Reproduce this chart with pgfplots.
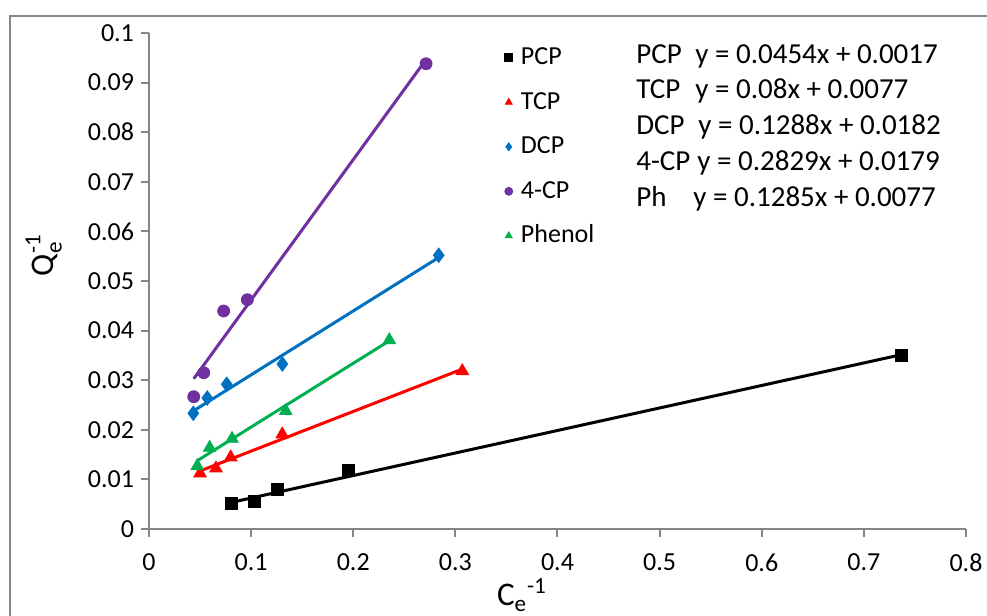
\documentclass[border=0pt]{standalone}
\usepackage{fontspec}
\setmainfont{Carlito}
\usepackage{amsmath}
\usepackage{pgfplots}
\pgfplotsset{compat=1.18}
\definecolor{axgray}{HTML}{868686}
\definecolor{tcpred}{HTML}{FF0000}
\definecolor{dcpblue}{HTML}{0070C0}
\definecolor{cppurple}{HTML}{7030A0}
\definecolor{phgreen}{HTML}{00B050}
\begin{document}
\begin{tikzpicture}
\useasboundingbox (0,0) rectangle (493.5pt,308pt);
\draw[axgray, line width=1pt] (5pt,-5pt) -- (5pt,300pt) -- (500pt,300pt);
\begin{axis}[
  at={(74.5pt,43.5pt)}, anchor=south west,
  scale only axis, width=408.5pt, height=248pt,
  xmin=0, xmax=0.8, ymin=0, ymax=0.1,
  axis x line*=bottom, axis y line*=left,
  axis line style={draw=axgray, line width=1pt},
  tick style={draw=axgray, line width=1pt},
  tick align=outside, major tick length=4pt,
  xtick={0,0.1,0.2,0.3,0.4,0.5,0.6,0.7,0.8},
  ytick={0,0.01,0.02,0.03,0.04,0.05,0.06,0.07,0.08,0.09,0.1},
  scaled x ticks=false, scaled y ticks=false,
  xticklabel style={/pgf/number format/fixed, /pgf/number format/precision=2, yshift=-5pt},
  yticklabel style={/pgf/number format/fixed, /pgf/number format/precision=2},
  /pgf/number format/assume math mode=true,
  tick label style={font=\fontsize{13}{15}\selectfont, text=black},
  xlabel={C\textsubscript{e}\textsuperscript{-1}},
  ylabel={Q$_{\text{e}}^{\text{-1}}$},
  label style={font=\fontsize{16.5}{19}\selectfont},
  xlabel style={at={(axis description cs:0.4174,-0.155)}, anchor=base west},
  ylabel style={at={(axis description cs:-0.1175,0.552)}, anchor=base},
  legend style={at={(axis description cs:0.435,0.981)}, anchor=north west,
    draw=none, fill=none, inner sep=0pt,
    font=\fontsize{13}{15}\selectfont, row sep=7.25pt,
    nodes={inner sep=1pt, text height=10pt, text depth=3pt},
    /tikz/every odd column/.append style={column sep=3.1pt}},
  legend cell align=left,
  legend image code/.code={\draw[mark repeat=2,mark phase=2,mark size=2pt] plot coordinates {(0cm,0cm)(0.12cm,0cm)(0.24cm,0cm)};},
  clip=false,
]
% data points
\addplot[only marks, mark=square*, mark size=3pt, color=black] coordinates {
 (0.0803,0.00518) (0.1031,0.00551) (0.1261,0.0080) (0.1955,0.0119) (0.7364,0.0351)};
\addlegendentry{PCP}
\addplot[only marks, mark=triangle*, mark size=3.6pt, color=tcpred] coordinates {
 (0.0500,0.01123) (0.0656,0.01224) (0.0800,0.01446) (0.1305,0.0191) (0.3068,0.03185)};
\addlegendentry{TCP}
\addplot[only marks, mark=diamond*, mark size=3.6pt, color=dcpblue] coordinates {
 (0.0434,0.02333) (0.0571,0.02641) (0.0761,0.02917) (0.1306,0.03327) (0.2837,0.05518)};
\addlegendentry{DCP}
\addplot[only marks, mark=*, mark size=3pt, color=cppurple] coordinates {
 (0.0438,0.02667) (0.0536,0.0315) (0.0731,0.04395) (0.0963,0.04623) (0.2713,0.0938)};
\addlegendentry{4-CP}
\addplot[only marks, mark=triangle*, mark size=3.6pt, color=phgreen] coordinates {
 (0.0473,0.0127) (0.0594,0.0164) (0.0813,0.0182) (0.1339,0.0238) (0.2353,0.0381)};
\addlegendentry{Phenol}
% trend lines
\addplot[forget plot, black, line width=1.5pt] coordinates {(0.0803,0.00535) (0.7364,0.03513)};
\addplot[forget plot, tcpred, line width=1.5pt] coordinates {(0.0500,0.0117) (0.3068,0.03224)};
\addplot[forget plot, dcpblue, line width=1.5pt] coordinates {(0.0434,0.02379) (0.2837,0.05474)};
\addplot[forget plot, cppurple, line width=1.5pt] coordinates {(0.0438,0.03029) (0.2713,0.09465)};
\addplot[forget plot, phgreen, line width=1.5pt] coordinates {(0.0473,0.01378) (0.2353,0.03794)};
\end{axis}
\begin{scope}[every node/.style={font=\fontsize{14.5}{17}\selectfont, inner sep=0pt, anchor=base west}]
\node at (318pt,276.35pt) {PCP};
\node at (347.5pt,276.35pt) {y = 0.0454x + 0.0017};
\node at (318pt,258.5pt) {TCP};
\node at (347.5pt,258.5pt) {y = 0.08x + 0.0077};
\node at (318pt,240.5pt) {DCP};
\node at (349pt,240.5pt) {y = 0.1288x + 0.0182};
\node at (318pt,222.65pt) {4-CP};
\node at (348.5pt,222.65pt) {y = 0.2829x + 0.0179};
\node at (318pt,204.65pt) {Ph};
\node at (346.5pt,204.65pt) {y = 0.1285x + 0.0077};
\end{scope}
\end{tikzpicture}
\end{document}
